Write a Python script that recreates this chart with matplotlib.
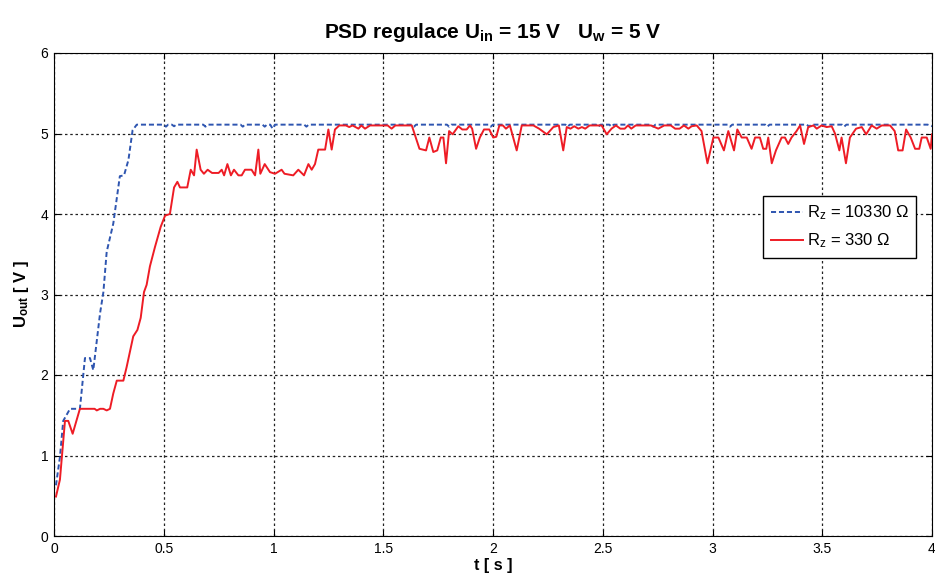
import matplotlib
matplotlib.use("Agg")
import matplotlib.pyplot as plt

plt.rcParams['font.family'] = ['Liberation Sans', 'DejaVu Sans']
plt.rcParams['mathtext.default'] = 'regular'

# Data
t_blue = [0.009, 0.027, 0.042, 0.073, 0.118, 0.141, 0.164, 0.179, 0.21, 0.225, 0.24, 0.27,
          0.30, 0.319, 0.339, 0.358, 0.377,
          0.50, 0.51, 0.52, 0.537, 0.547, 0.557, 0.68, 0.69, 0.70, 0.85, 0.86, 0.87,
          0.95, 0.96, 0.97, 0.985, 0.996, 1.007, 1.14, 1.15, 1.16,
          1.63, 1.64, 1.65, 1.79, 1.80, 1.81, 1.98, 1.99, 2.00, 2.33, 2.34, 2.35,
          2.47, 2.48, 2.49, 2.53, 2.54, 2.55, 2.72, 2.73, 2.74, 3.07, 3.08, 3.09,
          3.24, 3.25, 3.26, 3.43, 3.44, 3.45, 3.59, 3.60, 3.61, 3.98, 4.0]
u_blue = [0.63, 0.98, 1.43, 1.58, 1.58, 2.21, 2.21, 2.06, 2.77, 3.03, 3.53, 3.88,
          4.47, 4.48, 4.67, 5.04, 5.11,
          5.11, 5.085, 5.11, 5.11, 5.09, 5.11, 5.11, 5.085, 5.11, 5.11, 5.085, 5.11,
          5.11, 5.085, 5.11, 5.11, 5.06, 5.11, 5.11, 5.085, 5.11,
          5.11, 5.085, 5.11, 5.11, 5.085, 5.11, 5.11, 5.085, 5.11, 5.11, 5.085, 5.11,
          5.11, 5.085, 5.11, 5.11, 5.085, 5.11, 5.11, 5.085, 5.11, 5.11, 5.085, 5.11,
          5.11, 5.085, 5.11, 5.11, 5.085, 5.11, 5.11, 5.085, 5.11, 5.11, 5.09]

t_red = [0.009, 0.027, 0.05, 0.065, 0.085, 0.118, 0.185, 0.195, 0.21, 0.225, 0.24, 0.255,
         0.27, 0.286, 0.316, 0.331, 0.361, 0.38, 0.395, 0.41, 0.422, 0.437, 0.46, 0.486,
         0.506, 0.528, 0.547, 0.562, 0.574, 0.607, 0.623, 0.638, 0.65, 0.668, 0.683, 0.70,
         0.72, 0.75, 0.764, 0.775, 0.79, 0.806, 0.82, 0.84, 0.855, 0.87, 0.90, 0.916,
         0.931, 0.94, 0.96, 0.984, 1.007, 1.037, 1.05, 1.09, 1.113, 1.139, 1.159, 1.174,
         1.189, 1.204, 1.235, 1.25, 1.265, 1.28, 1.30, 1.33, 1.345, 1.36, 1.387, 1.40,
         1.417, 1.44, 1.50, 1.52, 1.538, 1.555, 1.63, 1.665, 1.695, 1.71, 1.728, 1.746,
         1.762, 1.774, 1.786, 1.80, 1.816, 1.842, 1.86, 1.88, 1.895, 1.905, 1.923, 1.94,
         1.959, 1.983, 2.001, 2.015, 2.029, 2.045, 2.059, 2.077, 2.108, 2.131, 2.184, 2.21,
         2.245, 2.275, 2.30, 2.32, 2.336, 2.353, 2.37, 2.389, 2.405, 2.42, 2.44, 2.495,
         2.518, 2.54, 2.56, 2.58, 2.60, 2.615, 2.63, 2.65, 2.72, 2.753, 2.78, 2.81,
         2.83, 2.85, 2.87, 2.89, 2.905, 2.928, 2.95, 2.977, 3.004, 3.027, 3.052, 3.072,
         3.098, 3.113, 3.133, 3.156, 3.178, 3.194, 3.216, 3.231, 3.245, 3.254, 3.27, 3.289,
         3.315, 3.33, 3.345, 3.36, 3.383, 3.399, 3.417, 3.436, 3.46, 3.475, 3.497, 3.52,
         3.543, 3.558, 3.578, 3.588, 3.608, 3.626, 3.654, 3.68, 3.70, 3.725, 3.748, 3.771,
         3.809, 3.83, 3.846, 3.866, 3.882, 3.903, 3.923, 3.942, 3.953, 3.976, 3.994, 4.0]
u_red = [0.49, 0.70, 1.43, 1.43, 1.27, 1.58, 1.58, 1.56, 1.58, 1.58, 1.56, 1.58,
         1.77, 1.93, 1.93, 2.10, 2.48, 2.56, 2.71, 3.03, 3.12, 3.35, 3.59, 3.84,
         3.98, 4.00, 4.33, 4.40, 4.33, 4.33, 4.55, 4.48, 4.80, 4.55, 4.50, 4.55,
         4.51, 4.51, 4.55, 4.48, 4.62, 4.48, 4.55, 4.48, 4.48, 4.55, 4.55, 4.48,
         4.80, 4.50, 4.62, 4.52, 4.50, 4.55, 4.50, 4.48, 4.55, 4.48, 4.62, 4.55,
         4.62, 4.80, 4.80, 5.05, 4.80, 5.05, 5.10, 5.10, 5.08, 5.10, 5.06, 5.10,
         5.06, 5.10, 5.10, 5.10, 5.06, 5.10, 5.10, 4.81, 4.79, 4.95, 4.77, 4.79,
         4.95, 4.95, 4.63, 5.03, 4.99, 5.09, 5.05, 5.05, 5.10, 5.06, 4.81, 4.95,
         5.05, 5.05, 4.95, 4.96, 5.10, 5.10, 5.06, 5.10, 4.79, 5.10, 5.10, 5.06,
         4.99, 5.08, 5.10, 4.79, 5.08, 5.06, 5.09, 5.06, 5.08, 5.06, 5.10, 5.10,
         4.99, 5.06, 5.10, 5.06, 5.06, 5.10, 5.06, 5.10, 5.10, 5.06, 5.10, 5.10,
         5.06, 5.06, 5.10, 5.06, 5.09, 5.10, 5.03, 4.63, 4.95, 4.95, 4.79, 5.03,
         4.79, 5.05, 4.95, 4.95, 4.81, 4.95, 4.95, 4.81, 4.81, 4.95, 4.63, 4.79,
         4.95, 4.95, 4.87, 4.95, 5.03, 5.10, 4.87, 5.08, 5.10, 5.06, 5.10, 5.08,
         5.09, 5.00, 4.79, 4.95, 4.63, 4.95, 5.06, 5.08, 4.99, 5.10, 5.06, 5.10,
         5.10, 5.03, 4.79, 4.79, 5.05, 4.95, 4.81, 4.81, 4.95, 4.95, 4.81, 4.99]

x_ticks = [0, 0.5, 1, 1.5, 2, 2.5, 3, 3.5, 4]
x_labels = ['0', '0.5', '1', '1.5', '2', '2.5', '3', '3.5', '4']
y_ticks = [0, 1, 2, 3, 4, 5, 6]

fig = plt.figure(figsize=(9.35, 5.74), dpi=100)
ax = fig.add_axes([54/935, 1 - 536/574, 878/935, 483/574])

ax.plot(t_blue, u_blue, linestyle='--', color='#2E55B0', linewidth=1.4,
        dashes=(2.6, 1.5), label=r'R$_z$ = 10330 Ω')
ax.plot(t_red, u_red, linestyle='-', color='#EE1C25', linewidth=1.4,
        label=r'R$_z$ = 330 Ω')

ax.set_xlim(0, 4)
ax.set_ylim(0, 6)
ax.set_xticks(x_ticks)
ax.set_xticklabels(x_labels)
ax.set_yticks(y_ticks)
ax.tick_params(direction='in', length=4, labelsize=10, top=True, right=True, pad=4)
ax.grid(True, color='#222222', linestyle=(0, (2, 2.2)), linewidth=0.9)
for s in ax.spines.values():
    s.set_color('black')
    s.set_linewidth(0.8)

ax.set_title(r'PSD regulace U$_{in}$ = 15 V   U$_{w}$ = 5 V', fontsize=15,
             fontweight='bold', pad=11)
ax.set_xlabel('t [ s ]', fontsize=11.5, fontweight='bold', labelpad=2)
ax.set_ylabel(r'U$_{out}$ [ V ]', fontsize=12, fontweight='bold', labelpad=7)

leg = ax.legend(loc='upper right', bbox_to_anchor=(0.982, 0.704), fontsize=12,
                fancybox=False, framealpha=1, edgecolor='black', handlelength=1.9,
                borderpad=0.45, labelspacing=0.55, handletextpad=0.25,
                borderaxespad=0)
leg.get_frame().set_linewidth(1.0)

fig.savefig('out.png', dpi=100)
